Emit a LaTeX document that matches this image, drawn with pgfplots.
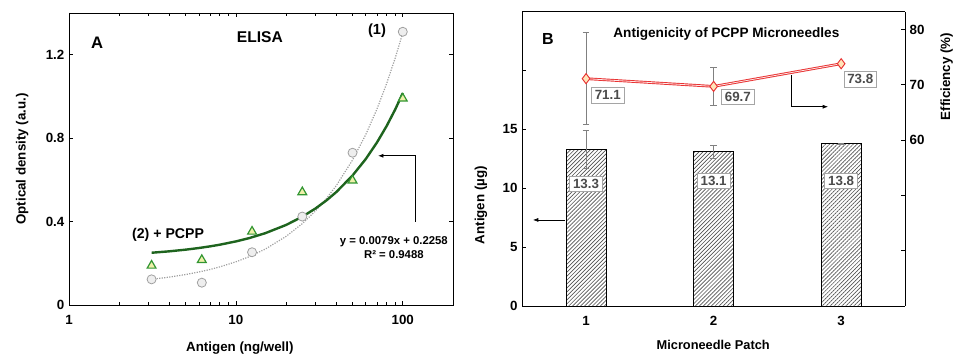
\documentclass[border=0pt]{standalone}
\usepackage{fontspec}
\setmainfont{Liberation Sans}
\usepackage{pgfplots}
\pgfplotsset{compat=1.18}
\usetikzlibrary{patterns.meta,arrows.meta}
\definecolor{fitgreen}{RGB}{30,100,30}
\definecolor{trigreen}{RGB}{50,150,50}
\definecolor{trifill}{RGB}{240,240,170}
\definecolor{circgray}{RGB}{160,160,160}
\definecolor{circfill}{RGB}{238,238,238}
\definecolor{redline}{RGB}{232,50,50}
\definecolor{peach}{RGB}{255,228,185}
\definecolor{boxgray}{RGB}{165,165,165}
\definecolor{txtgray}{RGB}{75,75,75}
\newcommand{\fs}[1]{\bfseries\fontsize{#1}{#1}\selectfont}
\begin{document}
\begin{tikzpicture}
\path[use as bounding box] (0,0) rectangle (717.75pt,267pt);
\pgfplotsset{
  every axis/.append style={
    scale only axis,
    anchor=south west,
    axis line style={line width=0.6pt},
    tick style={black,line width=0.5pt},
    major tick length=3pt,
    minor tick length=2pt,
    tick label style={font=\fs{10}},
    label style={font=\fs{10}},
    /pgf/number format/assume math mode=true,
  }
}
% ---------------- Panel A ----------------
\begin{axis}[
  at={(51.75pt,38.25pt)}, width=288pt, height=219pt,
  xmode=log, xmin=1, xmax=200, ymin=0, ymax=1.4,
  xtick={1,10,100}, xticklabels={1,10,100},
  ytick={0,0.4,0.8,1.2}, yticklabels={0,0.4,0.8,1.2},
  xticklabel style={yshift=-4pt},
  xlabel={Antigen (ng/well)},
  ylabel={Optical density (a.u.)},
  xlabel style={at={(axis description cs:0.445,-0.147)},anchor=center},
  ylabel style={at={(axis description cs:-0.122,0.5)},anchor=center},
]
\addplot[circgray, densely dotted, line width=0.9pt] coordinates {
(3.125,0.1231) (4,0.1338) (5,0.146) (6,0.1582) (7,0.1704) (8,0.1826)
(10,0.207) (12,0.2314) (15,0.268) (20,0.329) (25,0.39) (30,0.451)
(35,0.512) (40,0.573) (50,0.695) (60,0.817) (70,0.939) (80,1.061)
(90,1.183) (100,1.305)};
\addplot[fitgreen, line width=1.8pt] coordinates {
(3.125,0.2505) (4,0.2574) (5,0.2653) (6,0.2732) (7,0.2811) (8,0.2890)
(10,0.3048) (12,0.3206) (15,0.3443) (20,0.3838) (25,0.4233) (30,0.4628)
(35,0.5023) (40,0.5418) (50,0.6208) (60,0.6998) (70,0.7788) (80,0.8578)
(90,0.9368) (100,1.0158)};
\addplot[only marks, mark=*, mark size=3.4pt,
  mark options={draw=circgray, fill=circfill, line width=0.6pt}] coordinates {
(3.125,0.123) (6.25,0.107) (12.5,0.253) (25,0.424) (50,0.73) (100,1.31)};
\addplot[only marks, mark=triangle*, mark size=3.8pt,
  mark options={draw=trigreen, fill=trifill, line width=0.9pt}] coordinates {
(3.125,0.189) (6.25,0.216) (12.5,0.352) (25,0.541) (50,0.597) (100,0.99)};
\node[font=\fs{12.5}] at (rel axis cs:0.073,0.897) {A};
\node[font=\fs{11.7}] at (rel axis cs:0.497,0.918) {ELISA};
\node[font=\fs{11}] at (rel axis cs:0.802,0.938) {(1)};
\node[font=\fs{10.6}] at (rel axis cs:0.258,0.240) {(2) + PCPP};
\node[font=\fs{8.5}, align=center, inner sep=0pt] at (rel axis cs:0.846,0.195)
  {y = 0.0079x + 0.2258\\[2pt]R² = 0.9488};
\draw[line width=0.5pt, -{Latex[length=4pt,width=3pt]}]
  (rel axis cs:0.903,0.285) -- (rel axis cs:0.903,0.511) -- (rel axis cs:0.805,0.511);
\end{axis}
% ---------------- Panel B (left axis: bars) ----------------
\begin{axis}[
  at={(391.7pt,37.5pt)}, width=287pt, height=220.7pt,
  xmin=0.5, xmax=3.5, ymin=0, ymax=25,
  axis y line*=left,
  xtick={1,2,3}, xticklabels={1,2,3},
  xtick style={draw=none},
  xticklabel style={yshift=-4pt},
  ytick={0,5,10,15,20}, yticklabels={0,5,10,15,{}},
  xlabel={Microneedle Patch},
  ylabel={Antigen (µg)},
  xlabel style={at={(axis description cs:0.499,-0.1325)},anchor=center,font=\fs{9.6}},
  ylabel style={at={(axis description cs:-0.108,0.343)},anchor=center},
]
\addplot[ybar, bar width=29.8pt, bar shift=0pt, draw=black, line width=0.6pt,
  pattern={Lines[angle=45,distance=2.1pt,line width=0.5pt]}, pattern color=gray!65!black,
  error bars/.cd, y dir=both, y explicit,
  error bar style={draw=gray, line width=0.5pt, solid},
  error mark options={rotate=90, mark size=2.5pt, draw=gray, line width=0.5pt}]
  coordinates {(1,13.3) +- (0,1.6) (2,13.1) +- (0,0.55) (3,13.8) +- (0,0.05)};
\node[font=\fs{12}] at (axis cs:0.70,22.7) {B};
\node[font=\fs{10.2}] at (axis cs:2.10,23.1) {Antigenicity of PCPP Microneedles};
\foreach \xx/\yy/\tt in {1/10.37/13.3, 2/10.62/13.1, 3/10.62/13.8}{
  \edef\tmp{\noexpand\node[font=\noexpand\fs{10}, text=txtgray, fill=white, draw=boxgray, line width=0.6pt, inner xsep=2.5pt, inner ysep=2.3pt] at (axis cs:\xx,\yy) {\tt};}\tmp
}
\draw[line width=0.5pt, -{Latex[length=4pt,width=3pt]}] (axis cs:0.835,7.31) -- (axis cs:0.584,7.31);
\draw[line width=0.5pt, -{Latex[length=4pt,width=3pt]}] (axis cs:2.612,19.63) -- (axis cs:2.612,16.93) -- (axis cs:2.897,16.93);
\end{axis}
% ---------------- Panel B (right axis: efficiency) ----------------
\begin{axis}[
  at={(391.7pt,37.5pt)}, width=287pt, height=220.7pt,
  xmin=0.5, xmax=3.5, ymin=30, ymax=83.2,
  axis y line*=right, axis x line=none,
  ytick={40,50,60,70,80}, yticklabels={{},{},60,70,80},
  ylabel={Efficiency (\%)},
  ylabel style={at={(axis description cs:1.109,0.78)},anchor=center},
]
\addplot[draw=none, forget plot,
  error bars/.cd, y dir=both, y explicit,
  error bar style={draw=gray, line width=0.5pt, solid},
  error mark options={rotate=90, mark size=2.5pt, draw=gray, line width=0.5pt}]
  coordinates {(1,71.1) +- (0,8.3) (2,69.7) +- (0,3.4) (3,73.8) +- (0,0)};
\addplot[redline, line width=2pt, mark=none] coordinates {(1,71.1) (2,69.7) (3,73.8)};
\addplot[white!90!red, line width=0.6pt, mark=none] coordinates {(1,71.1) (2,69.7) (3,73.8)};
\addplot[only marks, mark=diamond*, mark size=3.8pt,
  mark options={draw=redline, fill=peach, line width=0.7pt}]
  coordinates {(1,71.1) (2,69.7) (3,73.8)};
\node[font=\fs{10}, text=txtgray, fill=white, draw=boxgray, line width=0.6pt, inner xsep=2.5pt, inner ysep=2.3pt] at (axis cs:1.17,68.1) {71.1};
\node[font=\fs{10}, text=txtgray, fill=white, draw=boxgray, line width=0.6pt, inner xsep=2.5pt, inner ysep=2.3pt] at (axis cs:2.19,67.8) {69.7};
\node[font=\fs{10}, text=txtgray, fill=white, draw=boxgray, line width=0.6pt, inner xsep=2.5pt, inner ysep=2.3pt] at (axis cs:3.15,71.0) {73.8};
\end{axis}
\end{tikzpicture}
\end{document}
